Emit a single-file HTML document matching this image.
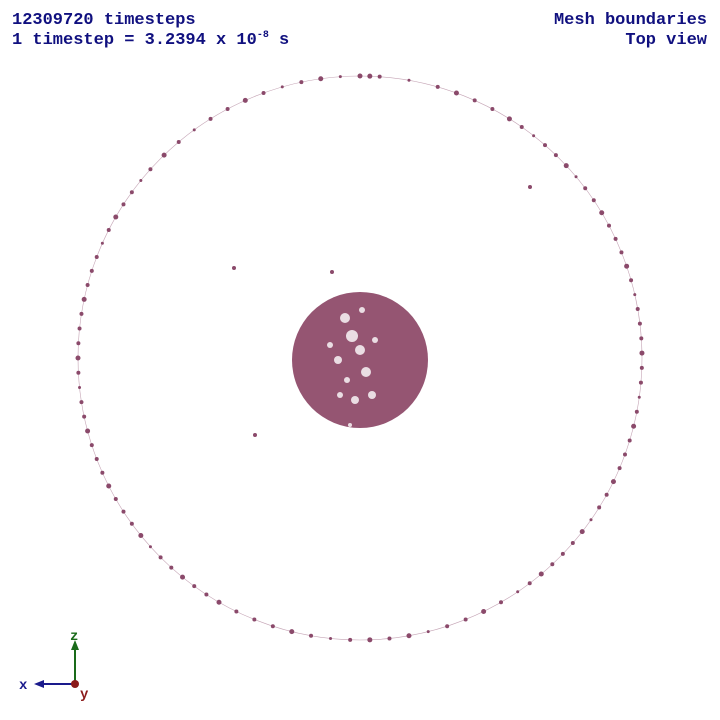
<!DOCTYPE html>
<html><head><meta charset="utf-8"><style>
html,body{margin:0;padding:0;background:#fff;width:720px;height:720px;overflow:hidden}
.t{position:absolute;font-family:"Liberation Mono",monospace;font-weight:bold;font-size:17px;color:#10107f;line-height:20px}
</style></head><body>
<div class="t" style="left:12px;top:11px">12309720 timesteps</div>
<div class="t" style="left:12px;top:31px">1 timestep = 3.2394 x 10<sup style="font-size:10px;vertical-align:7px;line-height:0">-8</sup> s</div>
<div class="t" style="right:13px;top:11px;text-align:right">Mesh boundaries</div>
<div class="t" style="right:13px;top:31px;text-align:right">Top view</div>
<svg id="plot" width="720" height="720" style="position:absolute;left:0;top:0">
<g id="ring"></g>
<g id="disk"></g>
<g>
<line x1="75" y1="684" x2="75" y2="648" stroke="#1a6b1a" stroke-width="2"/>
<polygon points="75,640 71,650 79,650" fill="#1a6b1a"/>
<line x1="75" y1="684" x2="42" y2="684" stroke="#1a1a8c" stroke-width="2"/>
<polygon points="34,684 44,680 44,688" fill="#1a1a8c"/>
<circle cx="75" cy="684" r="4" fill="#8b1a1a"/>
<text x="70" y="640" font-family="Liberation Mono,monospace" font-weight="bold" font-size="14" fill="#1a6b1a">z</text>
<text x="19" y="689" font-family="Liberation Mono,monospace" font-weight="bold" font-size="14" fill="#1a1a8c">x</text>
<text x="80" y="698" font-family="Liberation Mono,monospace" font-weight="bold" font-size="14" fill="#8b1a1a">y</text>
</g>
</svg>
<script>
const ringAngles=[-88,-86,-80,-74,-70,-66,-62,-58,-55,-52,-49,-46,-43,-40,-37,-34,-31,-28,-25,-22,-19,-16,-13,-10,-7,-4,-1,2,5,8,11,14,17,20,23,26,29,32,35,38,41,44,47,50,53,56,60,64,68,72,76,80,84,88,92,96,100,104,108,112,116,120,123,126,129,132,135,138,141,144,147,150,153,156,159,162,165,168,171,174,177,180,183,186,189,192,195,198,201,204,207,210,213,216,219,222,226,230,234,238,242,246,250,254,258,262,266,270,274];
const ringSizes=[2.5,2,1.5,2,2.5,2,2,2.5,2,1.5,2,2,2.5,1.5,2,2,2.5,2,2,2,2.5,2,1.5,2,2,2,2.5,2,2,1.5,2,2.5,2,2,2,2.5,2,2,1.5,2.5,2,2,2,2.5,2,1.5,2,2.5,2,2,1.5,2.5,2,2.5,2,1.5,2,2.5,2,2,2,2.5,2,2,2.5,2,2,1.5,2.5,2,2,2,2.5,2,2,2,2.5,2,2,1.5,2,2.5,2,2,2,2.5,2,2,2,1.5,2,2.5,2,2,1.5,2,2.5,2,1.5,2,2,2.5,2,1.5,2,2.5,1.5,2.5];
const strayX=[234,332,530,255];
const strayY=[268,272,187,435];
const holeX=[345,352,360,338,366,330,372,355,347,362,340,375,350];
const holeY=[318,336,350,360,372,345,395,400,380,310,395,340,425];
const holeR=[5,6,5,4,5,3,4,4,3,3,3,3,2];
const color="#8b4a6b";
const ns="http://www.w3.org/2000/svg";
const cx=360,cy=358,R=282;
const ring=document.getElementById('ring');
ringAngles.forEach((a,i)=>{
  const t=a*Math.PI/180;
  const c=document.createElementNS(ns,'circle');
  
  
  c.setAttribute('cx',cx+R*Math.cos(t));c.setAttribute('cy',cy+R*Math.sin(t));
  c.setAttribute('r',ringSizes[i]);c.setAttribute('fill',color);
  ring.appendChild(c);
});
const base=document.createElementNS(ns,'circle');


base.setAttribute('cx',cx);base.setAttribute('cy',cy);base.setAttribute('r',R);
base.setAttribute('fill','none');base.setAttribute('stroke',color);base.setAttribute('stroke-width','0.6');base.setAttribute('stroke-opacity','0.5');
ring.appendChild(base);
strayX.forEach((x,i)=>{
  const c=document.createElementNS(ns,'circle');
  
  
  c.setAttribute('cx',x);c.setAttribute('cy',strayY[i]);c.setAttribute('r',2);c.setAttribute('fill',color);
  ring.appendChild(c);
});
const disk=document.getElementById('disk');
const d=document.createElementNS(ns,'circle');


d.setAttribute('cx',360);d.setAttribute('cy',360);d.setAttribute('r',68);d.setAttribute('fill','#955572');
disk.appendChild(d);
holeX.forEach((x,i)=>{
  const c=document.createElementNS(ns,'circle');
  
  
  c.setAttribute('cx',x);c.setAttribute('cy',holeY[i]);c.setAttribute('r',holeR[i]);c.setAttribute('fill','#fff');c.setAttribute('fill-opacity','0.8');
  disk.appendChild(c);
});
</script>
</body></html>
